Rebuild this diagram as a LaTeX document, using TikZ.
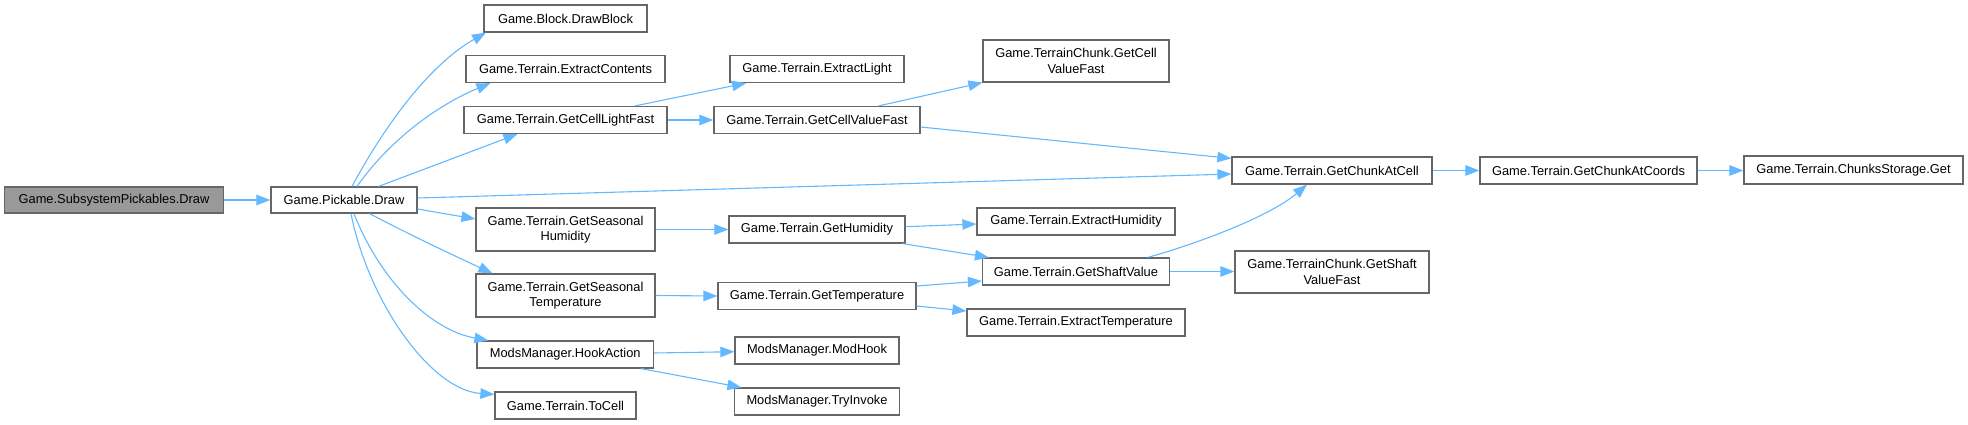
\documentclass[tikz,border=0pt]{standalone}
\usepackage{fontspec}
\setmainfont{Liberation Sans}
\usetikzlibrary{arrows.meta}
\definecolor{edgeblue}{HTML}{63B8FF}
\definecolor{boxgray}{HTML}{666666}
\definecolor{fillgray}{HTML}{999999}
\tikzset{
  box/.style={draw=boxgray, line width=1.2bp, fill=white, inner sep=0pt, align=center,
    font=\fontsize{12.9}{15.6}\selectfont, minimum height=27bp},
  box2/.style={box, minimum height=43bp},
  edge/.style={draw=edgeblue, line width=1.1bp, -{Triangle[length=14bp,width=10.5bp]}}
}
\begin{document}
\begin{tikzpicture}[x=1bp,y=1bp]
\useasboundingbox (0,0) rectangle (1968,-424);
% column 0/1
\node[box, fill=fillgray, minimum width=219bp, minimum height=26bp] (sp) at (114,-200) {Game.SubsystemPickables.Draw};
\node[box, minimum width=146bp, minimum height=26bp] (pd) at (344,-200) {Game.Pickable.Draw};
% column 2
\node[box, minimum width=163bp] (db) at (565.5,-18.5) {Game.Block.DrawBlock};
\node[box, minimum width=199bp] (ec) at (565.5,-69) {Game.Terrain.ExtractContents};
\node[box, minimum width=203bp] (clf) at (565.5,-120) {Game.Terrain.GetCellLightFast};
\node[box2, minimum width=179bp] (sh) at (565.5,-229.5) {Game.Terrain.GetSeasonal\\Humidity};
\node[box2, minimum width=179bp] (st) at (565.5,-295.5) {Game.Terrain.GetSeasonal\\Temperature};
\node[box, minimum width=176.5bp] (ha) at (565.2,-354.5) {ModsManager.HookAction};
\node[box, minimum width=141bp] (tc) at (565.5,-405.5) {Game.Terrain.ToCell};
% column 3
\node[box, minimum width=174bp] (el) at (817,-69) {Game.Terrain.ExtractLight};
\node[box, minimum width=206bp] (cvf) at (817,-120) {Game.Terrain.GetCellValueFast};
\node[box, minimum width=176bp] (gh) at (817,-229.5) {Game.Terrain.GetHumidity};
\node[box, minimum width=198bp] (gt) at (817,-296) {Game.Terrain.GetTemperature};
\node[box, minimum width=164bp] (mh) at (817,-350.5) {ModsManager.ModHook};
\node[box, minimum width=165bp] (ti) at (817,-401.5) {ModsManager.TryInvoke};
% column 4
\node[box2, minimum width=186bp, minimum height=42bp] (tcv) at (1076,-61) {Game.TerrainChunk.GetCell\\ValueFast};
\node[box, minimum width=198bp] (eh) at (1076,-221.5) {Game.Terrain.ExtractHumidity};
\node[box, minimum width=187bp] (gsv) at (1076,-271.5) {Game.Terrain.GetShaftValue};
\node[box, minimum width=218bp] (et) at (1076,-322.5) {Game.Terrain.ExtractTemperature};
% column 5
\node[box, minimum width=200bp] (cac) at (1332,-170.5) {Game.Terrain.GetChunkAtCell};
\node[box2, minimum width=194bp, minimum height=42bp] (tsv) at (1332,-272) {Game.TerrainChunk.GetShaft\\ValueFast};
% column 6, 7
\node[box, minimum width=217bp] (cco) at (1588.5,-170.5) {Game.Terrain.GetChunkAtCoords};
\node[box, minimum width=219bp, minimum height=28bp] (csg) at (1853.5,-170) {Game.Terrain.ChunksStorage.Get};
% edges
\draw[edge] (sp.east) -- (pd.west);
\draw[edge] ([xshift=8bp]pd.north) .. controls (390,-116) and (434,-62) .. ([xshift=2.6bp]db.south west);
\draw[edge] ([xshift=13bp]pd.north) .. controls (391,-138) and (440,-104) .. ([xshift=25bp]ec.south west);
\draw[edge] ([xshift=34.5bp]pd.north) -- ([xshift=54bp]clf.south west);
\draw[edge] ([yshift=2bp]pd.east) -- ([yshift=-3.5bp]cac.west);
\draw[edge] ([yshift=-9bp]pd.east) -- ([yshift=10.5bp]sh.west);
\draw[edge] ([xshift=25.6bp]pd.south) .. controls (410,-235) and (455,-256) .. ([xshift=17bp]st.north west);
\draw[edge] ([xshift=10bp]pd.south) .. controls (380,-280) and (430,-330) .. ([xshift=12bp]ha.north west);
\draw[edge] ([xshift=7bp]pd.south) .. controls (368,-300) and (430,-390) .. ([yshift=-3bp]tc.north west);
\draw[edge] ([xshift=69.5bp]clf.north) -- ([xshift=16.7bp]el.south west);
\draw[edge] (clf.east) -- (cvf.west);
\draw[edge] ([xshift=61.6bp]cvf.north) -- (tcv.south west);
\draw[edge] ([yshift=-7bp]cvf.east) -- ([yshift=-2bp]cac.north west);
\draw[edge] (sh.east) -- (gh.west);
\draw[edge] ([yshift=2.8bp]gh.east) -- ([yshift=-2.5bp]eh.west);
\draw[edge] ([xshift=-3bp]gh.south east) -- ([xshift=7bp]gsv.north west);
\draw[edge] (st.east) -- (gt.west);
\draw[edge] ([yshift=10bp]gt.east) -- ([yshift=-9.5bp]gsv.west);
\draw[edge] ([yshift=-10bp]gt.east) -- ([yshift=11.5bp]et.west);
\draw[edge] ([xshift=71.7bp]gsv.north) .. controls (1196,-244) and (1269,-217) .. ([xshift=-25bp]cac.south);
\draw[edge] (gsv.east) -- (gsv.east -| tsv.west);
\draw[edge] ([yshift=1.5bp]ha.east) -- ([yshift=-1.2bp]mh.west);
\draw[edge] ([xshift=-13bp]ha.south east) -- ([xshift=7.5bp]ti.north west);
\draw[edge] (cac.east) -- (cac.east -| cco.west);
\draw[edge] (cco.east) -- (cco.east -| csg.west);
\end{tikzpicture}
\end{document}
